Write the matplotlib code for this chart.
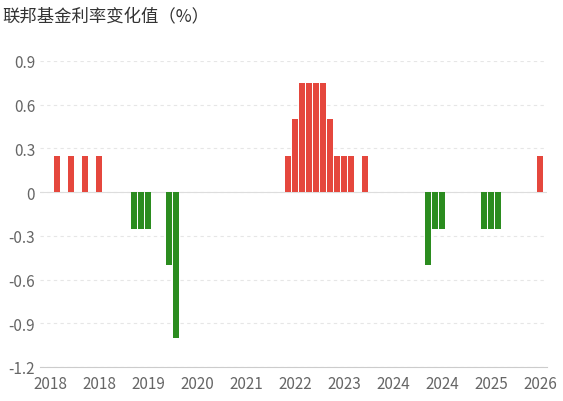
import matplotlib
matplotlib.use("Agg")
import matplotlib.pyplot as plt

plt.rcParams['font.family'] = ['Noto Sans CJK SC', 'DejaVu Sans']

meetings_per_year = [("2018", 8), ("2019", 8), ("2020", 9), ("2021", 8), ("2022", 8),
                     ("2023", 8), ("2024", 8), ("2025", 8), ("2026", 6)]
years = [y for y, n in meetings_per_year for _ in range(n)]
changes = [0, 0.25, 0, 0.25, 0, 0.25, 0, 0.25,
           0, 0, 0, 0, -0.25, -0.25, -0.25, 0,
           0, -0.5, -1.0, 0, 0, 0, 0, 0, 0,
           0, 0, 0, 0, 0, 0, 0, 0,
           0, 0.25, 0.5, 0.75, 0.75, 0.75, 0.75, 0.5,
           0.25, 0.25, 0.25, 0, 0.25, 0, 0, 0,
           0, 0, 0, 0, 0, -0.5, -0.25, -0.25,
           0, 0, 0, 0, 0, -0.25, -0.25, -0.25,
           0, 0, 0, 0, 0, 0.25]
yticks = [0.9, 0.6, 0.3, 0, -0.3, -0.6, -0.9, -1.2]
ytick_labels = ["0.9", "0.6", "0.3", "0", "-0.3", "-0.6", "-0.9", "-1.2"]

fig = plt.figure(figsize=(5.63, 4.02), dpi=100)
ax = fig.add_axes([40/563, 1-368/402, 507/563, 306/402])
x = list(range(len(changes)))
colors = ['#e5473d' if v > 0 else '#2b8c1f' for v in changes]
ax.bar(x, changes, width=0.72, color=colors, zorder=3)
ax.set_xlim(-1.43, 71)
ax.set_ylim(-1.2, 0.9)
ax.set_yticks(yticks)
ax.set_yticklabels(ytick_labels)
ax.grid(axis='y', color='#e6e6e6', linestyle=(0, (3, 3)), linewidth=0.8, zorder=0)
xt = list(range(0, len(changes), 7))
ax.set_xticks(xt)
ax.set_xticklabels([years[i] for i in xt])
ax.axhline(0, color='#dddddd', linewidth=0.8, zorder=2)
for s in ax.spines.values():
    s.set_visible(False)
ax.spines['bottom'].set_visible(True)
ax.spines['bottom'].set_color('#cccccc')
ax.tick_params(length=0, labelsize=11, colors='#666666')
ax.tick_params(axis='x', pad=6)
fig.text(2/563, 1-16/402, "联邦基金利率变化值（%）", fontsize=12.5, color='#333333', va='center')
fig.savefig("out.png", dpi=100)
